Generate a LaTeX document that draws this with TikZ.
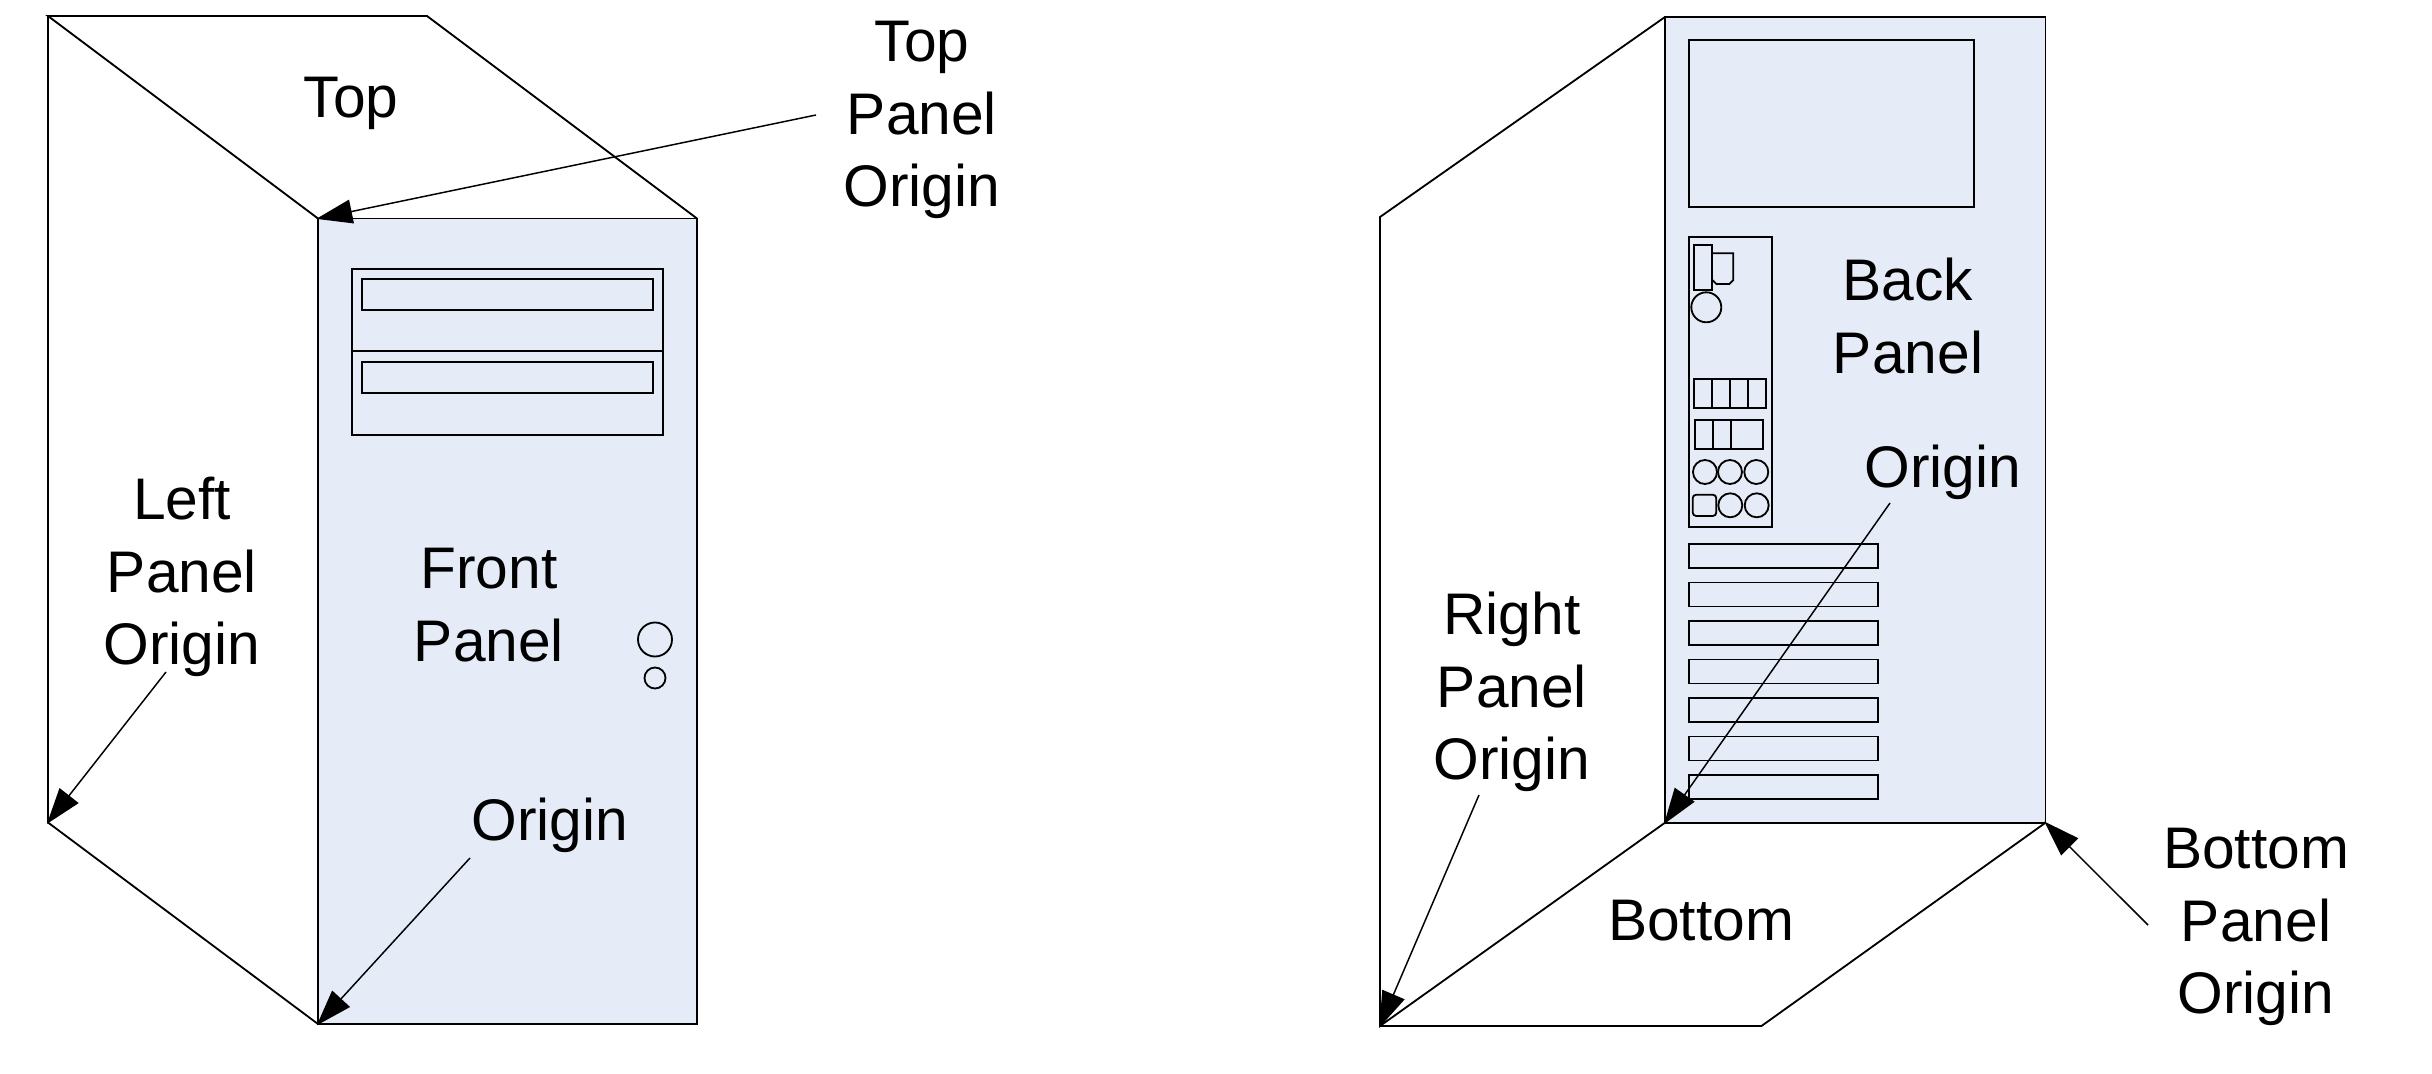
\documentclass[tikz,border=0pt]{standalone}
\usepackage{fontspec}
\setmainfont{Liberation Sans}
\usetikzlibrary{arrows.meta}
\definecolor{panelblue}{RGB}{230,236,247}
\tikzset{part/.style={line width=0.52pt,line join=miter}}
\tikzset{pointer/.style={line width=0.42pt,-{Triangle[length=0.36cm,width=0.24cm]},shorten >=-0.5pt}}
\tikzset{caption/.style={align=center,inner sep=0pt,font=\fontsize{16.7}{20.6}\selectfont}}

\begin{document}
\begin{tikzpicture}
	\useasboundingbox (0,0) rectangle (24.32,-10.74);
	% front view
	\coordinate (backleft) at (0.48,-0.16);
	\coordinate (backright) at (4.27,-0.16);
	\coordinate (frontnw) at (3.18,-2.185);
	\coordinate (frontne) at (6.97,-2.185);
	\coordinate (frontse) at (6.97,-10.24);
	\coordinate (frontsw) at (3.18,-10.24);
	\coordinate (leftsw) at (0.48,-8.225);
	\fill[panelblue] (frontnw) rectangle (frontse);
	\draw[part] (frontnw) rectangle (frontse);
	\draw[part] (frontnw) -- (backleft) -- (backright) -- (frontne);
	\draw[part] (backleft) -- (leftsw) -- (frontsw);
	\draw[part] (3.517,-2.687) rectangle (6.63,-4.35);
	\draw[part] (3.517,-3.51) -- (6.63,-3.51);
	\foreach \y in {0,-0.83}{
		\draw[part] (3.617,-2.79+\y) rectangle (6.53,-3.10+\y);
	}
	\draw[part] (6.55,-6.395) circle (0.17);
	\draw[part] (6.55,-6.78) circle (0.105);

	% back view
	\coordinate (backnw) at (16.65,-0.17);
	\coordinate (backne) at (20.455,-0.17);
	\coordinate (backse) at (20.455,-8.227);
	\coordinate (backsw) at (16.65,-8.227);
	\coordinate (rightnw) at (13.80,-2.17);
	\coordinate (rightsw) at (13.80,-10.26);
	\coordinate (bottomse) at (17.615,-10.26);
	\fill[panelblue] (backnw) rectangle (backse);
	\draw[part] (backnw) rectangle (backse);
	\draw[part] (backnw) -- (rightnw) -- (rightsw) -- (backsw);
	\draw[part] (rightsw) -- (bottomse) -- (backse);
	\draw[part] (16.887,-0.40) rectangle (19.74,-2.067);
	\draw[part] (16.887,-2.367) rectangle (17.723,-5.27);
	\draw[part] (16.937,-2.447) rectangle (17.117,-2.90);
	\draw[part] (17.123,-2.533) -- (17.333,-2.533) -- (17.333,-2.80) -- (17.293,-2.84) -- (17.163,-2.84) -- (17.123,-2.80);
	\draw[part] (17.063,-3.073) circle (0.15);
	\draw[part] (16.937,-3.787) rectangle (17.663,-4.08);
	\foreach \x in {17.12,17.30,17.48}{
		\draw[part] (\x,-3.787) -- (\x,-4.08);
	}
	\draw[part] (16.947,-4.197) rectangle (17.633,-4.49);
	\foreach \x in {17.127,17.307}{
		\draw[part] (\x,-4.197) -- (\x,-4.49);
	}
	\foreach \x in {17.05,17.30,17.563}{
		\draw[part] (\x,-4.72) circle (0.12);
	}
	\draw[part,rounded corners=1pt] (16.927,-4.947) rectangle (17.163,-5.16);
	\foreach \x in {17.303,17.567}{
		\draw[part] (\x,-5.053) circle (0.12);
	}
	\foreach \i in {0,...,6}{
		\draw[part] (16.887,-5.44-0.385*\i) rectangle (18.783,-5.68-0.385*\i);
	}

	% labels
	\node[caption] (toplabel) at (3.51,-1.03) {Top};
	\node[caption] (toporigin) at (9.22,-1.20) {Top\\Panel\\Origin};
	\node[caption] (leftorigin) at (1.82,-5.77) {Left\\Panel\\Origin};
	\node[caption] (frontlabel) at (4.89,-6.05) {Front\\Panel};
	\node[caption] (frontorigin) at (5.50,-8.25) {Origin};
	\node[caption] (backlabel) at (19.08,-3.16) {Back\\Panel};
	\node[caption] (backorigin) at (19.43,-4.72) {Origin};
	\node[caption] (rightorigin) at (15.12,-6.92) {Right\\Panel\\Origin};
	\node[caption] (bottomlabel) at (17.01,-9.21) {Bottom};
	\node[caption] (bottomorigin) at (22.56,-9.27) {Bottom\\Panel\\Origin};

	% arrow tails
	\coordinate (toptail) at (8.16,-1.15);
	\coordinate (lefttail) at (1.66,-6.72);
	\coordinate (fronttail) at (4.70,-8.58);
	\coordinate (backtail) at (18.90,-5.03);
	\coordinate (righttail) at (14.79,-7.95);
	\coordinate (bottomtail) at (21.48,-9.25);

	\draw[pointer] (toptail) -- (frontnw);
	\draw[pointer] (lefttail) -- (leftsw);
	\draw[pointer] (fronttail) -- (frontsw);
	\draw[pointer] (backtail) -- (backsw);
	\draw[pointer] (righttail) -- (rightsw);
	\draw[pointer] (bottomtail) -- (backse);
\end{tikzpicture}
\end{document}
